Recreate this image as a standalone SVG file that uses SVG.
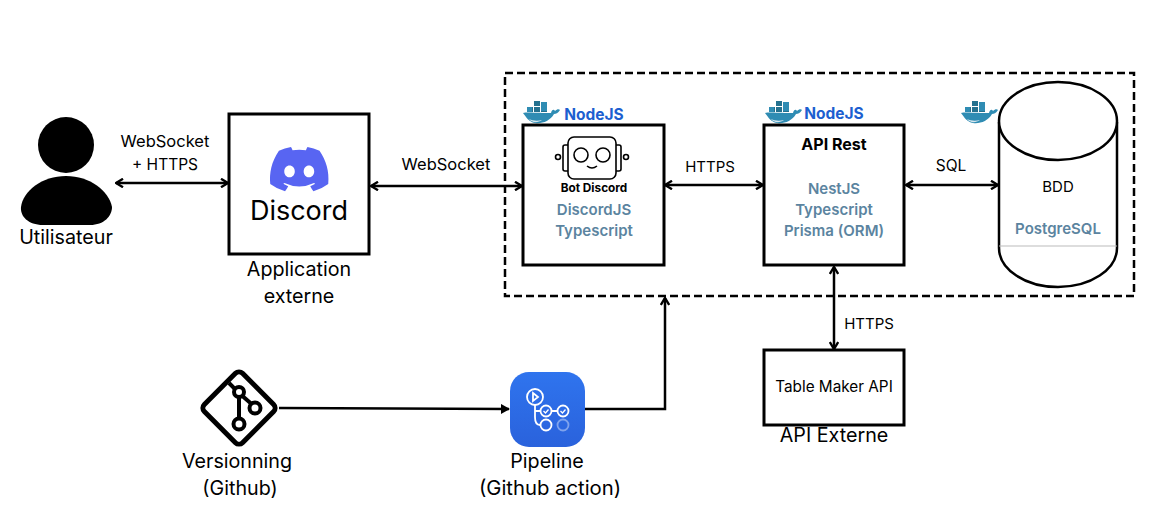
<svg xmlns="http://www.w3.org/2000/svg" width="1173" height="515" viewBox="0 0 1173 515">
<style>
text{font-family:Inter,"Noto Sans","Liberation Sans",sans-serif;fill:#000;text-anchor:middle}
.box{fill:#fff;stroke:#000;stroke-width:3}
.c{fill:none;stroke:#000;stroke-width:2.5}
.t{font-size:15.5px}
.ws{font-size:16.5px}
.h{font-size:15px}
.l{font-size:19.7px}
.s{font-size:15px;font-weight:600;fill:#5b84a0}
.n{font-size:15.5px;font-weight:700;fill:#1c5fd0}
.w{fill:#2f8cb3}
.k{fill:#24718f}
.bi{fill:none;stroke:#000;stroke-width:1.6}
</style>
<defs>
<linearGradient id="pg" x1="0" y1="0" x2="0" y2="1"><stop offset="0" stop-color="#2f74ee"/><stop offset="1" stop-color="#2a62dc"/></linearGradient>
<marker id="a" viewBox="0 0 10 10" refX="9" refY="5" markerWidth="10" markerHeight="10" markerUnits="userSpaceOnUse" orient="auto-start-reverse"><path d="M2 .8L9 5L2 9.2" fill="none" stroke="#000" stroke-width="2.4"/></marker>
<marker id="f" viewBox="0 0 10 10" refX="9" refY="5" markerWidth="10" markerHeight="10" markerUnits="userSpaceOnUse" orient="auto"><path d="M1 0L10 5L1 10Z" fill="#000"/></marker>
<g id="whale"><path class="k" d="M4 6h6v5H4zM11 6h6v5h-6zM18 6h6v5h-6zM11 0h6v5h-6z"/><path class="w" d="M18 1h6v9h-6zM4 6h5v5H4z"/><path class="w" d="M0 12C5 11 9 12 28 12C29 8 31 8 32 10C34 8 36 8 37 9C35 12 33 13 31 13C27 20 19 23 12 22C6 21 3 16 0 12Z"/><path d="M6 18C10 20 15 20 19 19C15 22 9 22 6 18Z" fill="#d5e6ee"/></g>
</defs>
<g id="frame"><rect x="505" y="73" width="629" height="223" fill="none" stroke="#000" stroke-width="2.5" stroke-dasharray="8 4"/></g>
<g id="connectors">
<path class="c" d="M116 183H228" marker-start="url(#a)" marker-end="url(#a)"/>
<path class="c" d="M371 186L522 186" marker-start="url(#a)" marker-end="url(#a)"/>
<path class="c" d="M665 185H763" marker-start="url(#a)" marker-end="url(#a)"/>
<path class="c" d="M906 185H998" marker-start="url(#a)" marker-end="url(#a)"/>
<path class="c" d="M834 267V349" marker-start="url(#a)" marker-end="url(#a)"/>
<path class="c" d="M279 408L509 409" marker-end="url(#f)"/>
<path class="c" d="M585 409H665V298" marker-end="url(#a)"/>
</g>
<g id="user"><circle cx="66" cy="145" r="28"/><path d="M43 225C28 225 20 216 21 207C23 191 42 176 66 176C90 176 109 191 112 207C112 216 104 225 90 225Z"/><text class="l" x="66" y="244">Utilisateur</text></g>
<g id="discord"><rect class="box" x="229" y="114" width="140" height="140"/>
<path transform="translate(270 147) scale(.46)" fill="#5865f2" d="M107.7,8.07A105.15,105.15,0,0,0,81.47,0a72.06,72.06,0,0,0-3.36,6.83A97.68,97.68,0,0,0,49,6.83,72.37,72.37,0,0,0,45.64,0,105.89,105.89,0,0,0,19.39,8.09C2.79,32.65-1.71,56.6.54,80.21h0A105.73,105.73,0,0,0,32.71,96.36,77.7,77.7,0,0,0,39.6,85.25a68.42,68.42,0,0,1-10.85-5.18c.91-.66,1.8-1.34,2.66-2a75.57,75.57,0,0,0,64.32,0c.87.71,1.76,1.39,2.66,2a68.68,68.68,0,0,1-10.87,5.19,77,77,0,0,0,6.89,11.1A105.25,105.25,0,0,0,126.6,80.22h0C129.24,52.84,122.09,29.11,107.7,8.07ZM42.45,65.69C36.18,65.69,31,60,31,53s5-12.74,11.43-12.74S54,46,53.89,53,48.84,65.69,42.45,65.69Zm42.24,0C78.41,65.69,73.25,60,73.25,53s5-12.74,11.44-12.74S96.23,46,96.12,53,91.08,65.69,84.69,65.69Z"/>
<text x="299" y="220" font-size="27">Discord</text>
<text class="l" x="299" y="276">Application</text><text class="l" x="299" y="303">externe</text></g>
<g id="bot">
<use href="#whale" x="523" y="101"/><text class="n" x="594" y="120">NodeJS</text>
<rect class="box" x="523" y="125" width="141" height="140"/>
<rect x="568" y="137" width="48" height="42" rx="6" fill="#fff" class="bi"/>
<path class="bi" d="M568 145h-3q-2 0-2 2v22q0 2 2 2h3M616 145h3q2 0 2 2v22q0 2-2 2h-3"/>
<circle class="bi" cx="581" cy="155" r="7"/><circle class="bi" cx="603" cy="155" r="7"/>
<circle class="bi" cx="558" cy="157" r="2.5"/><circle class="bi" cx="626" cy="157" r="2.5"/>
<path class="bi" d="M587 166q5 4 10 0"/>
<text x="594" y="192" font-size="11.8" font-weight="700">Bot Discord</text>
<text class="s" x="594" y="215">DiscordJS</text><text class="s" x="594" y="236">Typescript</text></g>
<g id="api">
<use href="#whale" x="765" y="101"/><text class="n" x="834" y="119">NodeJS</text>
<rect class="box" x="764" y="125" width="140" height="140"/>
<text x="834" y="150" font-size="16" font-weight="700">API Rest</text>
<text class="s" x="834" y="194">NestJS</text><text class="s" x="834" y="215">Typescript</text><text class="s" x="834" y="236">Prisma (ORM)</text></g>
<g id="bdd">
<use href="#whale" x="961" y="101"/>
<path d="M999 122V248A59 39 0 0 0 1117 248V122" fill="#fff" stroke="#000" stroke-width="2.5"/>
<ellipse cx="1058" cy="121" rx="59" ry="39" fill="#fff" stroke="#000" stroke-width="2.5"/>
<path d="M999 246H1117" stroke="#bbb" stroke-width="1"/>
<text x="1058" y="192" font-size="15">BDD</text><text class="s" x="1058" y="234">PostgreSQL</text></g>
<g id="tablemaker"><rect class="box" x="764" y="350" width="140" height="75"/><text x="834" y="392" font-size="15.3">Table Maker API</text><text class="l" x="834" y="442">API Externe</text></g>
<g id="git">
<rect x="212" y="381" width="54" height="54" rx="5" transform="rotate(45 239 408)" fill="#fff" stroke="#000" stroke-width="5"/>
<path d="M229 383L239 393V425M239 393L255 407" fill="none" stroke="#000" stroke-width="4"/>
<circle cx="239" cy="392" r="5" fill="#fff" stroke="#000" stroke-width="4"/><circle cx="255" cy="408" r="5.5" fill="#fff" stroke="#000" stroke-width="4"/><circle cx="239" cy="424" r="5.5" fill="#fff" stroke="#000" stroke-width="4"/>
<text class="l" x="237" y="468">Versionning</text><text class="l" x="240" y="495">(Github)</text></g>
<g id="pipeline">
<rect x="510" y="372" width="75" height="75" rx="19" fill="url(#pg)"/>
<g fill="none" stroke="#fff" stroke-width="1.8"><circle cx="535" cy="397" r="8"/><path d="M533 393l5 4l-5 4z"/><path d="M535 405V417q0 8 5 8M535 411h5M552 411h5"/><circle cx="546" cy="411" r="5.5"/><circle cx="563" cy="411" r="5.500"/><circle cx="546" cy="425" r="5.500"/><circle cx="563" cy="425" r="5.500" stroke-opacity=".4"/><path d="M543.500 411l2 2l3-3.500M560.500 411l2 2l3-3.500" stroke-width="1.300"/></g>
<text class="l" x="547" y="468">Pipeline</text><text x="550" y="495" font-size="20.3">(Github action)</text></g>
<g id="labels">
<text class="ws" x="165" y="147">WebSocket</text><text class="t" x="165" y="170">+ HTTPS</text>
<text class="ws" x="446" y="170">WebSocket</text>
<text class="h" x="710" y="172">HTTPS</text>
<text class="t" x="951" y="171">SQL</text>
<text class="h" x="869" y="329">HTTPS</text>
</g>
</svg>
